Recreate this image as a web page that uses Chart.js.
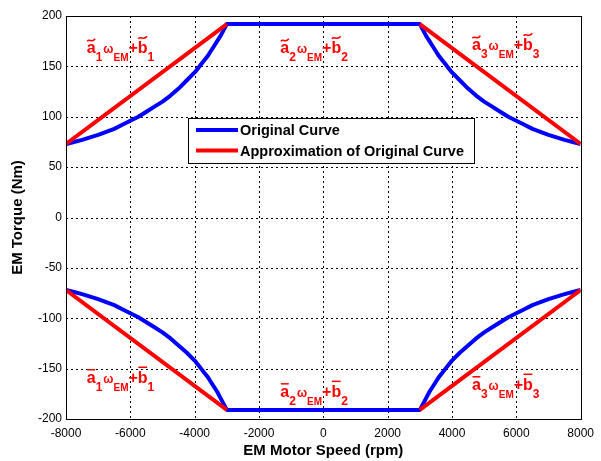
<!DOCTYPE html>
<html>
<head>
<meta charset="utf-8">
<script src="https://cdn.jsdelivr.net/npm/chart.js@4.4.0/dist/chart.umd.min.js"></script>
<style>
  html, body { margin: 0; padding: 0; background: #fff; }
  #wrap { width: 601px; height: 461px; }
</style>
</head>
<body>
<div id="wrap"><canvas id="c" width="601" height="461"></canvas></div>
<script>
// ---- Data ----
const speedTop = [-8000,-7750,-7500,-7250,-7000,-6750,-6500,-6250,-6000,-5750,-5500,-5250,-5000,-4750,-4500,-4250,
                  -4000,-3900,-3800,-3700,-3600,-3500,-3400,-3300,-3200,-3100,-3000,
                  3000,3100,3200,3300,3400,3500,3600,3700,3800,3900,4000,
                  4250,4500,4750,5000,5250,5500,5750,6000,6250,6500,6750,7000,7250,7500,7750,8000];
const torqueTop = [73,75,77,79.5,82,85,88,92,96,100,105,110,115,121,128,136,
                   144,148,152,156,160,165,170,175,180,186,192,
                   192,186,180,175,170,165,160,156,152,148,144,
                   136,128,121,115,110,105,100,96,92,88,85,82,79.5,77,75,73];
const speedBot = speedTop.slice();
const torqueBot = [-72,-74,-76,-78.5,-81,-84,-87,-91,-95,-99,-104,-109,-114,-120,-127,-134,
                   -142,-146,-150,-154,-158,-163,-168,-173,-179,-185,-191,
                   -191,-185,-179,-173,-168,-163,-158,-154,-150,-146,-142,
                   -134,-127,-120,-114,-109,-104,-99,-95,-91,-87,-84,-81,-78.5,-76,-74,-72];
const approxSpeed = [-8000,-3000,null,3000,8000];
const approxTop = [73,192,null,192,73];
const approxBot = [-72,-191,null,-191,-72];
const xTicks = [-8000,-6000,-4000,-2000,0,2000,4000,6000,8000];
const yTicks = [-200,-150,-100,-50,0,50,100,150,200];
const seriesNames = ['Original Curve','Approximation of Original Curve'];
const xTitle = 'EM Motor Speed (rpm)';
const yTitle = 'EM Torque (Nm)';
// annotation labels: accent type, index, anchor (data coords)
const eqAccent = ['tilde','tilde','tilde','bar','bar','bar'];
const eqIndex  = ['1','2','3','1','2','3'];
const eqX = [-7355,-1336,4622,-7355,-1336,4622];
const eqY = [163,163,166,-164,-178,-171];

const BLUE = 'rgb(0,0,255)';
const RED = 'rgb(255,0,0)';
const FONT = '"Liberation Sans", Arial, sans-serif';

function pts(xs, ys) {
  return xs.map((x, i) => ({ x: x === null ? 0 : x, y: ys[i] }));
}

const gridPlugin = {
  id: 'dottedGrid',
  beforeDatasetsDraw(chart) {
    const ctx = chart.ctx, a = chart.chartArea;
    const xs = chart.scales.x, ys = chart.scales.y;
    ctx.save();
    ctx.strokeStyle = '#000';
    ctx.lineWidth = 1;
    ctx.setLineDash([2, 3]);
    xs.ticks.forEach(t => {
      const px = Math.round(xs.getPixelForValue(t.value)) + 0.5;
      ctx.beginPath(); ctx.moveTo(px, a.top); ctx.lineTo(px, a.bottom); ctx.stroke();
    });
    ys.ticks.forEach(t => {
      const py = Math.round(ys.getPixelForValue(t.value)) + 0.5;
      ctx.beginPath(); ctx.moveTo(a.left, py); ctx.lineTo(a.right, py); ctx.stroke();
    });
    ctx.restore();
  }
};

const overlay = {
  id: 'overlay',
  afterDatasetsDraw(chart) {
    const ctx = chart.ctx;
    const a = chart.chartArea;
    const xs = chart.scales.x, ys = chart.scales.y;
    ctx.save();
    // frame
    ctx.strokeStyle = '#000';
    ctx.lineWidth = 1;
    ctx.setLineDash([]);
    ctx.strokeRect(Math.round(a.left) + 0.5, Math.round(a.top) + 0.5,
                   Math.round(a.right - a.left), Math.round(a.bottom - a.top));

    // equation labels
    ctx.fillStyle = RED;
    ctx.strokeStyle = RED;
    ctx.textBaseline = 'alphabetic';
    ctx.textAlign = 'left';
    const big = 'bold 16px ' + FONT;
    const sub = 'bold 12px ' + FONT;
    const om = 'bold 12px ' + FONT;
    const em = 'bold 10px ' + FONT;
    function accent(type, x0, w, yy) {
      ctx.save();
      ctx.lineWidth = 1.5;
      ctx.beginPath();
      if (type === 'bar') {
        ctx.moveTo(x0 + 0.5, yy);
        ctx.lineTo(x0 + w - 0.5, yy);
      } else {
        ctx.moveTo(x0 + 0.5, yy + 1);
        ctx.bezierCurveTo(x0 + w * 0.3, yy - 2.5, x0 + w * 0.55, yy + 3.5, x0 + w - 0.5, yy - 1.5);
      }
      ctx.stroke();
      ctx.restore();
    }
    for (let i = 0; i < eqX.length; i++) {
      let x = xs.getPixelForValue(eqX[i]);
      const yb = ys.getPixelForValue(eqY[i]);
      ctx.font = big;
      const wa = ctx.measureText('a').width;
      ctx.fillText('a', x, yb);
      accent(eqAccent[i], x, wa, yb - 13);
      x += wa;
      ctx.font = sub;
      ctx.fillText(eqIndex[i], x, yb + 8);
      x += ctx.measureText(eqIndex[i]).width + 1;
      ctx.font = om;
      ctx.fillText('\u03c9', x, yb);
      x += ctx.measureText('\u03c9').width;
      ctx.font = em;
      ctx.fillText('EM', x, yb + 8);
      x += ctx.measureText('EM').width;
      ctx.font = big;
      ctx.fillText('+', x, yb);
      x += ctx.measureText('+').width;
      const wb = ctx.measureText('b').width;
      ctx.fillText('b', x, yb);
      accent(eqAccent[i], x, wb, yb - 15.5);
      x += wb;
      ctx.font = sub;
      ctx.fillText(eqIndex[i], x, yb + 8);
    }

    // legend box
    const lx = 188, ly = 118, lw = 286, lh = 45;
    ctx.fillStyle = '#fff';
    ctx.fillRect(lx, ly, lw, lh);
    ctx.strokeStyle = '#000';
    ctx.lineWidth = 1;
    ctx.strokeRect(lx + 0.5, ly + 0.5, lw, lh);
    const colors = [BLUE, RED];
    const rows = [130, 150.5];
    ctx.font = 'bold 14.5px ' + FONT;
    ctx.textBaseline = 'middle';
    for (let k = 0; k < 2; k++) {
      ctx.strokeStyle = colors[k];
      ctx.lineWidth = 4;
      ctx.beginPath();
      ctx.moveTo(196, rows[k]);
      ctx.lineTo(238, rows[k]);
      ctx.stroke();
      ctx.fillStyle = '#000';
      ctx.fillText(seriesNames[k], 240, rows[k] + 1);
    }

    // axis titles
    ctx.fillStyle = '#000';
    ctx.font = 'bold 15px ' + FONT;
    ctx.textAlign = 'center';
    ctx.textBaseline = 'middle';
    ctx.fillText(xTitle, (a.left + a.right) / 2, 451);
    ctx.save();
    ctx.translate(18, (a.top + a.bottom) / 2);
    ctx.rotate(-Math.PI / 2);
    ctx.fillText(yTitle, 0, 0);
    ctx.restore();
    ctx.restore();
  }
};

new Chart(document.getElementById('c'), {
  type: 'line',
  data: {
    datasets: [
      { label: seriesNames[0], data: pts(speedTop, torqueTop), borderColor: BLUE, borderWidth: 4,
        pointRadius: 0, fill: false, tension: 0, order: 2 },
      { label: seriesNames[0], data: pts(speedBot, torqueBot), borderColor: BLUE, borderWidth: 4,
        pointRadius: 0, fill: false, tension: 0, order: 2 },
      { label: seriesNames[1], data: pts(approxSpeed, approxTop), borderColor: RED, borderWidth: 4,
        pointRadius: 0, fill: false, spanGaps: false, order: 1 },
      { label: seriesNames[1], data: pts(approxSpeed, approxBot), borderColor: RED, borderWidth: 4,
        pointRadius: 0, fill: false, spanGaps: false, order: 1 }
    ]
  },
  options: {
    responsive: false,
    animation: false,
    layout: { padding: { top: 16, right: 14, left: 0, bottom: 0 } },
    plugins: { legend: { display: false }, tooltip: { enabled: false } },
    elements: { line: { borderCapStyle: 'butt', borderJoinStyle: 'round' } },
    scales: {
      x: {
        type: 'linear', min: -8000, max: 8000,
        afterFit(s) { s.height = 42; },
        afterBuildTicks(s) { s.ticks = xTicks.map(v => ({ value: v })); },
        grid: { display: false, drawTicks: false, tickLength: 0 },
        border: { display: false },
        ticks: { color: '#000', font: { family: FONT, size: 12 }, padding: 7, maxRotation: 0, autoSkip: false,
                 callback: v => String(v) }
      },
      y: {
        type: 'linear', min: -200, max: 200,
        afterFit(s) { s.width = 66; },
        afterBuildTicks(s) { s.ticks = yTicks.map(v => ({ value: v })); },
        grid: { display: false, drawTicks: false, tickLength: 0 },
        border: { display: false },
        ticks: { color: '#000', font: { family: FONT, size: 12 }, padding: 4, autoSkip: false,
                 callback: v => String(v) }
      }
    }
  },
  plugins: [gridPlugin, overlay]
});
</script>
</body>
</html>
